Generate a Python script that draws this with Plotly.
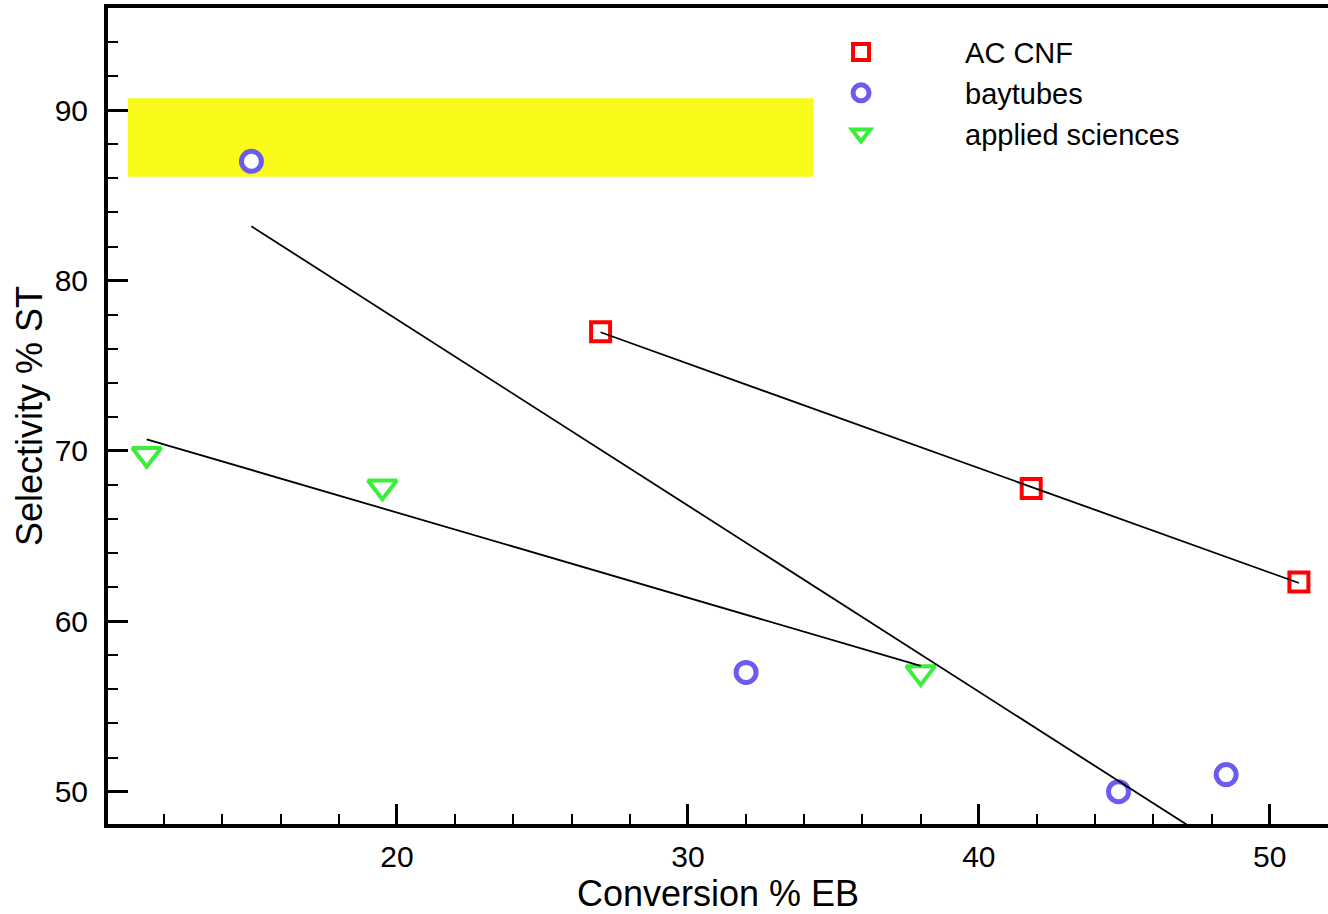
import numpy as np
import plotly.graph_objects as go

# ---- data ----
ac_x = [27.0, 41.8, 51.0]
ac_y = [77.0, 67.8, 62.3]

bay_x = [15.0, 32.0, 44.8, 48.5]
bay_y = [87.0, 57.0, 50.0, 51.0]

app_x = [11.4, 19.5, 38.0]
app_y = [69.8, 67.9, 57.0]

series_names = ["AC CNF", "baytubes", "applied sciences"]

# target band (yellow region)
band_x = [10.75, 34.3]
band_y = [86.1, 90.7]

x_range = [10.07, 52.0]
y_range = [48.1, 96.0]

FONT = "Liberation Sans, Arial, Helvetica, sans-serif"
RED = "#FF0000"
BLUE = "#6B5BF0"
GREEN = "#38F038"
YELLOW = "#F9F91A"

fig = go.Figure()

fig.add_shape(type="rect", xref="x", yref="y",
              x0=band_x[0], x1=band_x[1], y0=band_y[0], y1=band_y[1],
              fillcolor=YELLOW, line=dict(width=0), layer="below")

specs = [
    (ac_x, ac_y, series_names[0], "square", RED, 19, 4),
    (bay_x, bay_y, series_names[1], "circle", BLUE, 20, 5),
    (app_x, app_y, series_names[2], "triangle-down", GREEN, 25, 4),
]

for xs, ys, name, sym, col, size, lw in specs:
    fig.add_trace(go.Scatter(
        x=xs, y=ys, mode="markers", name=name,
        marker=dict(symbol=sym, size=size, color="white",
                    line=dict(color=col, width=lw)),
        cliponaxis=False,
    ))

# least-squares fit lines for each series
for xs, ys, name, *_ in specs:
    k, b = np.polyfit(xs, ys, 1)
    xe = np.array([min(xs), max(xs)])
    fig.add_trace(go.Scatter(
        x=xe, y=k * xe + b, mode="lines", showlegend=False,
        line=dict(color="black", width=1.8), hoverinfo="skip",
    ))

axis_common = dict(
    showgrid=False, zeroline=False, automargin=False,
    showline=True, linecolor="black", linewidth=4,
    ticks="inside", ticklen=20, tickwidth=3, tickcolor="black",
    tickfont=dict(family=FONT, size=30, color="black"),
)

fig.update_xaxes(
    range=x_range, dtick=10, tick0=0,
    mirror=True,
    ticklabelstandoff=3,
    minor=dict(dtick=2, tick0=0, ticks="inside", ticklen=10, tickwidth=2, tickcolor="black"),
    title=dict(text="Conversion % EB", font=dict(family=FONT, size=36, color="black"), standoff=23),
    **axis_common,
)
fig.update_yaxes(
    range=y_range, dtick=10, tick0=0,
    ticklabelstandoff=10,
    minor=dict(dtick=2, tick0=0, ticks="inside", ticklen=10, tickwidth=2, tickcolor="black"),
    title=dict(text="Selectivity % ST", font=dict(family=FONT, size=36, color="black"), standoff=2),
    **axis_common,
)

fig.update_layout(
    width=1328, height=914,
    margin=dict(l=108, r=0, t=8, b=90),
    paper_bgcolor="white", plot_bgcolor="white",
    font=dict(family=FONT, color="black"),
    showlegend=True,
    legend=dict(x=0.532, y=0.977, xanchor="left", yanchor="top",
                bgcolor="rgba(0,0,0,0)", borderwidth=0,
                itemwidth=198,
                font=dict(family=FONT, size=29, color="black")),
)

fig.write_html("out.html")
